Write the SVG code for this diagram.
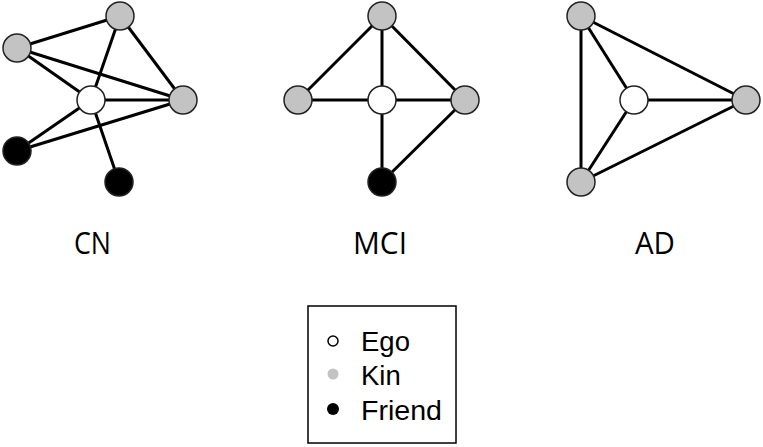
<svg xmlns="http://www.w3.org/2000/svg" width="763" height="447" viewBox="0 0 763 447">
<style>
.e{stroke:#000;stroke-width:3;fill:none}
.n{stroke:#222;stroke-width:1.5}
.ego{fill:#fff}
.kin{fill:#c3c3c3}
.fr{fill:#000}
.lab{font-family:"Open Sans","Liberation Sans",sans-serif;font-size:31px;fill:#000}
.leg{font-family:"Liberation Sans",Arial,sans-serif;font-size:27.5px;fill:#000}
</style>
<rect width="763" height="447" fill="#fff"/>
<g id="connectors">
<!-- CN -->
<line class="e" x1="17" y1="48" x2="120" y2="16"/>
<line class="e" x1="17" y1="48" x2="91" y2="100"/>
<line class="e" x1="17" y1="48" x2="183" y2="100"/>
<line class="e" x1="120" y1="16" x2="91" y2="100"/>
<line class="e" x1="120" y1="16" x2="183" y2="100"/>
<line class="e" x1="91" y1="100" x2="183" y2="100"/>
<line class="e" x1="91" y1="100" x2="17" y2="151"/>
<line class="e" x1="17" y1="151" x2="183" y2="100"/>
<line class="e" x1="91" y1="100" x2="119" y2="182"/>
<!-- MCI -->
<line class="e" x1="382" y1="16" x2="298" y2="100"/>
<line class="e" x1="382" y1="16" x2="382" y2="100"/>
<line class="e" x1="382" y1="16" x2="465" y2="100"/>
<line class="e" x1="298" y1="100" x2="465" y2="100"/>
<line class="e" x1="382" y1="100" x2="382" y2="182"/>
<line class="e" x1="465" y1="100" x2="382" y2="182"/>
<!-- AD -->
<line class="e" x1="581" y1="16" x2="634" y2="100"/>
<line class="e" x1="581" y1="16" x2="746" y2="100"/>
<line class="e" x1="581" y1="16" x2="581" y2="182"/>
<line class="e" x1="634" y1="100" x2="746" y2="100"/>
<line class="e" x1="634" y1="100" x2="581" y2="182"/>
<line class="e" x1="581" y1="182" x2="746" y2="100"/>
</g>
<g id="cn-top"><circle class="n kin" cx="120" cy="16" r="14"/></g>
<g id="cn-left"><circle class="n kin" cx="17" cy="48" r="14"/></g>
<g id="cn-ego"><circle class="n ego" cx="91" cy="100" r="14"/></g>
<g id="cn-right"><circle class="n kin" cx="183" cy="100" r="14"/></g>
<g id="cn-friend1"><circle class="n fr" cx="17" cy="151" r="14"/></g>
<g id="cn-friend2"><circle class="n fr" cx="119" cy="182" r="14"/></g>
<g id="mci-top"><circle class="n kin" cx="382" cy="16" r="14"/></g>
<g id="mci-left"><circle class="n kin" cx="298" cy="100" r="14"/></g>
<g id="mci-ego"><circle class="n ego" cx="382" cy="100" r="14"/></g>
<g id="mci-right"><circle class="n kin" cx="465" cy="100" r="14"/></g>
<g id="mci-friend"><circle class="n fr" cx="382" cy="182" r="14"/></g>
<g id="ad-top"><circle class="n kin" cx="581" cy="16" r="14"/></g>
<g id="ad-ego"><circle class="n ego" cx="634" cy="100" r="14"/></g>
<g id="ad-right"><circle class="n kin" cx="746" cy="100" r="14"/></g>
<g id="ad-bottom"><circle class="n kin" cx="581" cy="182" r="14"/></g>
<g id="labels">
<text class="lab" x="74" y="254" textLength="37" lengthAdjust="spacingAndGlyphs">CN</text>
<text class="lab" x="353" y="254" textLength="54" lengthAdjust="spacingAndGlyphs">MCI</text>
<text class="lab" x="635" y="254" textLength="40" lengthAdjust="spacingAndGlyphs">AD</text>
</g>
<g id="legend">
<rect x="308" y="306" width="148" height="137" fill="#fff" stroke="#000" stroke-width="1.5"/>
<circle cx="333" cy="341" r="5" fill="#fff" stroke="#000" stroke-width="1.5"/>
<circle cx="333" cy="374" r="5.5" fill="#c3c3c3"/>
<circle cx="333" cy="409" r="6" fill="#000"/>
<text class="leg" x="361" y="351">Ego</text>
<text class="leg" x="361" y="385">Kin</text>
<text class="leg" x="361" y="420" textLength="81" lengthAdjust="spacingAndGlyphs">Friend</text>
</g>
</svg>
